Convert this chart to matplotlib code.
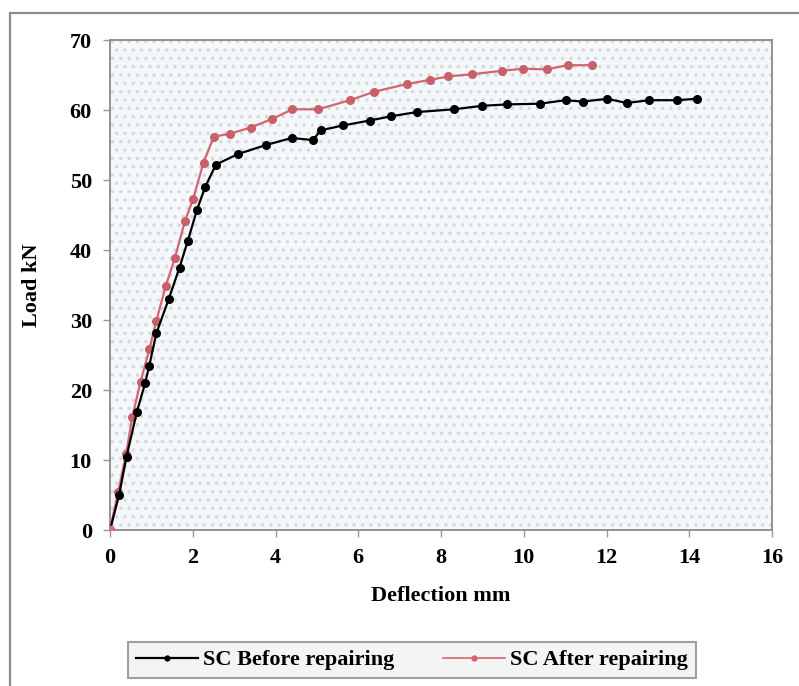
import matplotlib
matplotlib.use("Agg")
import matplotlib.pyplot as plt
from matplotlib.patches import Rectangle
from matplotlib.lines import Line2D

plt.rcParams['font.family'] = ['Liberation Serif', 'DejaVu Serif']
plt.rcParams['hatch.linewidth'] = 1.3

# Load-deflection readings (deflection in mm, load in kN)
before_defl = [0, 0.22, 0.4, 0.65, 0.85, 0.95, 1.12, 1.42, 1.68, 1.88, 2.1, 2.3, 2.56,
               3.09, 3.77, 4.39, 4.91, 5.09, 5.64, 6.28, 6.79, 7.41, 8.31, 9.0, 9.6,
               10.39, 11.01, 11.42, 12.02, 12.49, 13.03, 13.7, 14.18]
before_load = [0, 5.0, 10.5, 16.9, 21.0, 23.5, 28.1, 33.0, 37.5, 41.3, 45.7, 49.0, 52.2,
               53.7, 55.0, 56.0, 55.7, 57.1, 57.8, 58.5, 59.1, 59.7, 60.1, 60.6, 60.8,
               60.9, 61.4, 61.2, 61.6, 61.0, 61.4, 61.4, 61.6]

after_defl = [0, 0.2, 0.39, 0.54, 0.74, 0.95, 1.12, 1.35, 1.57, 1.81, 2.01, 2.26, 2.51,
              2.9, 3.4, 3.91, 4.41, 5.03, 5.8, 6.38, 7.17, 7.73, 8.18, 8.74, 9.47,
              9.99, 10.55, 11.06, 11.64]
after_load = [0, 5.5, 10.9, 16.2, 21.2, 25.8, 29.9, 34.9, 38.9, 44.1, 47.3, 52.5, 56.2,
              56.6, 57.5, 58.7, 60.1, 60.1, 61.4, 62.6, 63.7, 64.3, 64.8, 65.1, 65.6,
              65.9, 65.8, 66.4, 66.4]

series_names = ["SC Before repairing", "SC After repairing"]
x_ticks = list(range(0, 17, 2))
y_ticks = list(range(0, 71, 10))

W, H = 799, 686
fig = plt.figure(figsize=(W / 100, H / 100), dpi=100)

# outer chart frame
fig.patches.append(Rectangle((10 / W, -0.05), 1.1, 1 - 13 / H + 0.05,
                             transform=fig.transFigure, fill=False,
                             edgecolor='#8c8c8c', linewidth=1.6, zorder=0))

ax = fig.add_axes([110 / W, 1 - 530 / H, (772 - 110) / W, (530 - 40) / H])
ax.set_facecolor('#f4f8fb')
ax.add_patch(Rectangle((0, 0), 1, 1, transform=ax.transAxes, facecolor='none',
                       edgecolor='#d6dadd', hatch='..', linewidth=0, zorder=0))

red = '#d4646e'
ax.plot(before_defl, before_load, color='black', lw=1.6, marker='o', ms=5.5,
        mfc='black', mec='black', zorder=3)
ax.plot(after_defl, after_load, color=red, lw=1.6, marker='o', ms=5.5,
        mfc='#c8606a', mec='#c8606a', zorder=2)
# origin reading shared by both series
ax.plot(after_defl[:1], after_load[:1], ls='none', marker='o', ms=6,
        mfc='#d87078', mec='#d87078', zorder=4)

ax.set_xlim(0, 16)
ax.set_ylim(0, 70)
ax.set_xticks(x_ticks)
ax.set_yticks(y_ticks)
ax.tick_params(direction='out', length=5, width=1, color='#999999',
               labelsize=16, pad=8)
for lab in ax.get_xticklabels() + ax.get_yticklabels():
    lab.set_fontweight('bold')
for s in ax.spines.values():
    s.set_color('#8a8a8a')
    s.set_linewidth(1.3)

ax.set_xlabel("Deflection mm", fontsize=16, fontweight='bold', labelpad=13)
ax.set_ylabel("Load kN", fontsize=16, fontweight='bold', labelpad=20)

handles = [
    Line2D([], [], color='black', lw=1.6, marker='o', ms=3.5),
    Line2D([], [], color=red, lw=1.2, marker='o', ms=3.5),
]
leg = fig.legend(handles, series_names, loc='center',
                 bbox_to_anchor=(412 / W, 1 - 660 / H), ncol=2,
                 prop={'size': 16, 'weight': 'bold'}, frameon=True,
                 fancybox=False, edgecolor='#8a8a8a', facecolor='#f2f2f2',
                 handlelength=2.8, handletextpad=0.2, columnspacing=2.2,
                 borderpad=0.35)
leg.get_frame().set_linewidth(1.5)

fig.savefig("out.png", dpi=100)
